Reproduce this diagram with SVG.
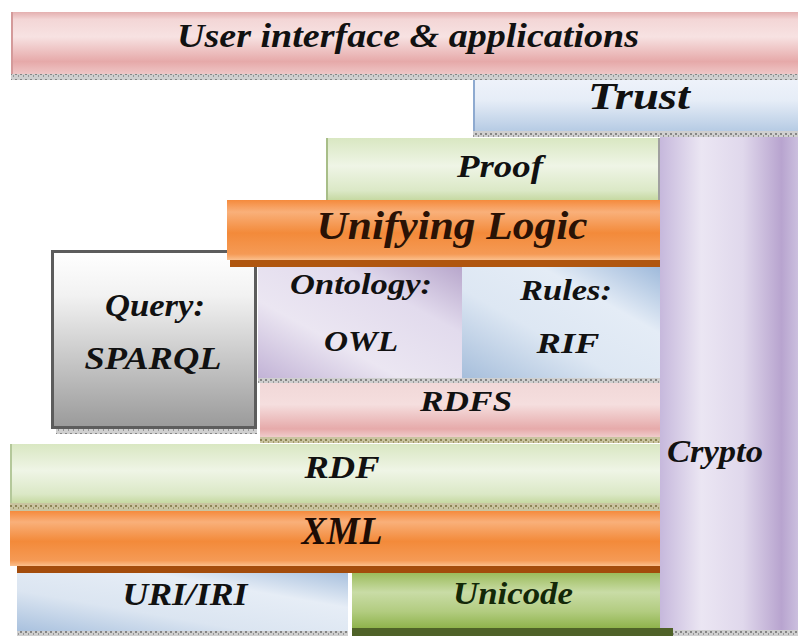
<svg xmlns="http://www.w3.org/2000/svg" width="798" height="636" viewBox="0 0 798 636">
<defs>
<style>
text{font-family:"Liberation Serif","Times New Roman",serif;font-weight:bold;font-style:italic;fill:#111;text-anchor:middle}
</style>
<pattern id="dots" width="5" height="6" patternUnits="userSpaceOnUse">
<rect width="5" height="6" fill="#cfcfcf"/>
<rect x="0" y="1" width="2" height="2" fill="#858585"/>
<rect x="3" y="3" width="1" height="2" fill="#979797"/>
</pattern>
<pattern id="dotsO" width="5" height="6" patternUnits="userSpaceOnUse">
<rect width="5" height="6" fill="#c9c4a0"/>
<rect x="0" y="1" width="2" height="2" fill="#8c8455"/>
<rect x="3" y="3" width="1" height="2" fill="#a09868"/>
</pattern>
<linearGradient id="gUI" x1="0" y1="0" x2="0" y2="1">
<stop offset="0" stop-color="#e4b0b0"/><stop offset="0.12" stop-color="#f3d6d6"/><stop offset="0.4" stop-color="#f7e2e2"/><stop offset="0.8" stop-color="#e6a9a9"/><stop offset="1" stop-color="#efc6c6"/>
</linearGradient>
<linearGradient id="gTrust" x1="0" y1="0" x2="0" y2="1">
<stop offset="0" stop-color="#eef2fa"/><stop offset="0.4" stop-color="#e6edf7"/><stop offset="1" stop-color="#b6cbe4"/>
</linearGradient>
<linearGradient id="gGreen" x1="0" y1="0" x2="0" y2="1">
<stop offset="0" stop-color="#d9e7c2"/><stop offset="0.45" stop-color="#eff5e6"/><stop offset="0.85" stop-color="#dbe8c6"/><stop offset="1" stop-color="#c6d9a2"/>
</linearGradient>
<linearGradient id="gOrange" x1="0" y1="0" x2="0" y2="1">
<stop offset="0" stop-color="#f58a3c"/><stop offset="0.2" stop-color="#f9b07a"/><stop offset="0.55" stop-color="#f38a3a"/><stop offset="0.9" stop-color="#f59a55"/><stop offset="1" stop-color="#fbbf8c"/>
</linearGradient>
<linearGradient id="gQuery" x1="0" y1="0" x2="0" y2="1">
<stop offset="0" stop-color="#ffffff"/><stop offset="0.25" stop-color="#f2f2f2"/><stop offset="1" stop-color="#9a9a9a"/>
</linearGradient>
<linearGradient id="gOnt" x1="0" y1="1" x2="1" y2="0">
<stop offset="0" stop-color="#c2b3d6"/><stop offset="0.35" stop-color="#ebe6f2"/><stop offset="0.7" stop-color="#e2dbed"/><stop offset="1" stop-color="#b8a7cc"/>
</linearGradient>
<linearGradient id="gRules" x1="0" y1="1" x2="1" y2="0">
<stop offset="0" stop-color="#a6bedb"/><stop offset="0.4" stop-color="#dde7f3"/><stop offset="0.7" stop-color="#e4ecf6"/><stop offset="1" stop-color="#9fbadb"/>
</linearGradient>
<linearGradient id="gRDFS" x1="0" y1="0" x2="0" y2="1">
<stop offset="0" stop-color="#f1d8d8"/><stop offset="0.4" stop-color="#f5dede"/><stop offset="0.85" stop-color="#e6aaaa"/><stop offset="1" stop-color="#f0cccc"/>
</linearGradient>
<linearGradient id="gURI" x1="0" y1="1" x2="1" y2="0">
<stop offset="0" stop-color="#a9c1de"/><stop offset="0.35" stop-color="#dbe5f1"/><stop offset="0.7" stop-color="#e6edf6"/><stop offset="1" stop-color="#a9c1de"/>
</linearGradient>
<linearGradient id="gUni" x1="0" y1="0" x2="0" y2="1">
<stop offset="0" stop-color="#9cbc5c"/><stop offset="0.35" stop-color="#c9dca6"/><stop offset="0.7" stop-color="#b2cc80"/><stop offset="1" stop-color="#8fb34c"/>
</linearGradient>
<linearGradient id="gCrypto" x1="0" y1="0" x2="1" y2="0">
<stop offset="0" stop-color="#c6b8dc"/><stop offset="0.3" stop-color="#ebe6f3"/><stop offset="0.6" stop-color="#e0d8ec"/><stop offset="0.88" stop-color="#b8a4cf"/><stop offset="1" stop-color="#cbbfde"/>
</linearGradient>
</defs>
<rect width="798" height="636" fill="#ffffff"/>

<g id="crypto">
<rect x="660" y="137" width="138" height="493" fill="url(#gCrypto)"/>
<rect x="673" y="630" width="125" height="6" fill="url(#dots)"/>
<text x="715" y="462" font-size="31" textLength="96" lengthAdjust="spacingAndGlyphs">Crypto</text>
</g>

<g id="ui">
<rect x="11" y="12" width="787" height="62" fill="url(#gUI)"/>
<rect x="11" y="12" width="2" height="62" fill="#d49a9a"/>
<rect x="11" y="74" width="787" height="6" fill="url(#dots)"/>
<text x="408" y="47" font-size="33" textLength="462" lengthAdjust="spacingAndGlyphs">User interface &amp; applications</text>
</g>

<g id="trust">
<rect x="473" y="80" width="325" height="51" fill="url(#gTrust)"/>
<rect x="473" y="80" width="2" height="51" fill="#8eaad0"/>
<rect x="473" y="131" width="325" height="6" fill="url(#dots)"/>
<text x="639" y="109" font-size="37" textLength="102" lengthAdjust="spacingAndGlyphs">Trust</text>
</g>

<g id="proof">
<rect x="326" y="138" width="334" height="62" fill="url(#gGreen)"/>
<rect x="326" y="138" width="2" height="62" fill="#a8be88"/>
<rect x="658" y="138" width="2" height="62" fill="#a0a0a0"/>
<rect x="326" y="200" width="334" height="4" fill="url(#dotsO)"/>
<text x="500" y="177" font-size="32" textLength="86" lengthAdjust="spacingAndGlyphs">Proof</text>
</g>

<g id="query">
<rect x="52.5" y="251.5" width="203" height="176" fill="url(#gQuery)" stroke="#5c5c5c" stroke-width="3"/>
<rect x="56" y="429" width="201" height="5" fill="url(#dots)"/>
<text x="155" y="316" font-size="31" textLength="100" lengthAdjust="spacingAndGlyphs">Query:</text>
<text x="153" y="369" font-size="31" textLength="137" lengthAdjust="spacingAndGlyphs">SPARQL</text>
</g>

<g id="unifying-logic">
<rect x="227" y="200" width="433" height="60" fill="url(#gOrange)"/>
<rect x="230" y="260" width="430" height="7" fill="#b0560f"/>
<text x="452" y="239" font-size="41" textLength="271" lengthAdjust="spacingAndGlyphs" style="fill:#2a1205">Unifying Logic</text>
</g>

<g id="ontology">
<rect x="258" y="267" width="204" height="111" fill="url(#gOnt)"/>
<text x="361" y="294" font-size="30" textLength="142" lengthAdjust="spacingAndGlyphs">Ontology:</text>
<text x="361" y="351" font-size="30" textLength="74" lengthAdjust="spacingAndGlyphs">OWL</text>
</g>

<g id="rules">
<rect x="462" y="267" width="198" height="111" fill="url(#gRules)"/>
<text x="566" y="300" font-size="30" textLength="92" lengthAdjust="spacingAndGlyphs">Rules:</text>
<text x="568" y="353" font-size="30" textLength="63" lengthAdjust="spacingAndGlyphs">RIF</text>
</g>

<g id="rdfs">
<rect x="258" y="378" width="402" height="5" fill="url(#dots)"/>
<rect x="260" y="383" width="400" height="54" fill="url(#gRDFS)"/>
<rect x="260" y="437" width="400" height="6" fill="url(#dotsO)"/>
<text x="466" y="411" font-size="30" textLength="92" lengthAdjust="spacingAndGlyphs">RDFS</text>
</g>

<g id="rdf">
<rect x="10" y="444" width="650" height="59" fill="url(#gGreen)"/>
<rect x="10" y="444" width="2" height="59" fill="#b4c89a"/>
<rect x="10" y="503" width="650" height="8" fill="url(#dotsO)"/>
<text x="342" y="478" font-size="31" textLength="75" lengthAdjust="spacingAndGlyphs">RDF</text>
</g>

<g id="xml">
<rect x="10" y="511" width="650" height="55" fill="url(#gOrange)"/>
<rect x="17" y="566" width="643" height="7" fill="#a34c0c"/>
<text x="342" y="544" font-size="39" textLength="81" lengthAdjust="spacingAndGlyphs" style="fill:#1e0c04">XML</text>
</g>

<g id="uri-iri">
<rect x="17" y="573" width="331" height="58" fill="url(#gURI)"/>
<rect x="17" y="631" width="331" height="5" fill="url(#dots)"/>
<text x="185" y="605" font-size="31" textLength="125" lengthAdjust="spacingAndGlyphs">URI/IRI</text>
</g>

<g id="unicode">
<rect x="352" y="573" width="308" height="55" fill="url(#gUni)"/>
<rect x="352" y="628" width="321" height="8" fill="#4f6228"/>
<text x="513" y="604" font-size="31" textLength="120" lengthAdjust="spacingAndGlyphs" style="fill:#132808">Unicode</text>
</g>
</svg>
